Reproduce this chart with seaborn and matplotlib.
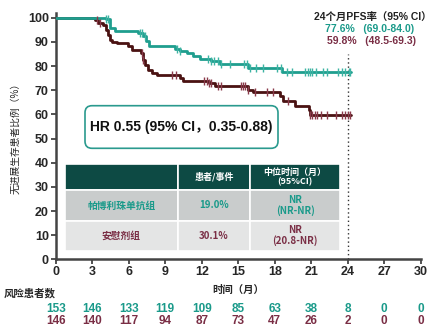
import numpy as np
import pandas as pd
import matplotlib
matplotlib.use("Agg")
import matplotlib.pyplot as plt
import matplotlib.transforms as mtransforms
from matplotlib.patches import Rectangle, FancyBboxPatch
import seaborn as sns

# ---------------- data ----------------
teal_t = [0, 4.1, 4.5, 4.9, 6.8, 7.2, 7.45, 7.7, 9.8, 10.2, 10.8, 11.3, 11.9, 12.8, 13.5, 15.8, 18.6, 24.3]
teal_s = [100, 99.5, 95.8, 94.4, 93.6, 92.4, 90.3, 88.2, 87.1, 86.2, 85.3, 84.1, 83.0, 82.2, 80.8, 79.4, 77.6, 77.6]
maroon_t = [0, 3.2, 3.5, 3.9, 4.1, 4.3, 4.45, 4.6, 5.0, 5.95, 6.25, 7.05, 7.2, 7.35, 7.6, 7.9, 8.3, 10.2, 10.5,
            12.6, 13.1, 15.8, 16.2, 18.4, 18.7, 19.7, 20.8, 20.9, 24.3]
maroon_s = [100, 99.3, 98.0, 97.2, 95.1, 93.0, 91.0, 90.0, 89.6, 88.2, 86.8, 85.5, 82.7, 80.6, 78.5, 77.2, 76.5, 75.1, 74.0,
            72.9, 71.6, 70.2, 69.1, 67.5, 65.4, 63.6, 61.7, 59.8, 59.8]
teal_cens = [4.1, 4.3, 6.9, 7.1, 7.3, 10.0, 10.2, 12.5, 12.8, 13.0, 13.3, 13.6, 14.3, 15.5, 15.7, 16.0, 16.5, 17.0,
             18.2, 18.5, 19.0, 19.4, 20.5, 20.7, 20.9, 21.1, 21.4, 22.0, 22.3, 23.2, 23.5, 23.8, 24.1, 24.2]
maroon_cens = [3.4, 3.6, 7.1, 7.2, 9.6, 9.9, 12.2, 12.4, 12.6, 12.8, 13.3, 13.6, 15.2, 15.4, 15.6, 15.8, 16.4, 17.4,
               17.9, 19.1, 20.9, 21.1, 21.3, 21.5, 21.8, 22.3, 23.0, 23.5, 23.8, 24.0, 24.2]
risk_times = [0, 3, 6, 9, 12, 15, 18, 21, 24, 27, 30]
risk_teal = [153, 146, 133, 119, 109, 85, 63, 38, 8, 0, 0]
risk_maroon = [146, 140, 117, 94, 87, 73, 47, 26, 2, 0, 0]
xticks = [0, 3, 6, 9, 12, 15, 18, 21, 24, 27, 30]
yticks = [0, 10, 20, 30, 40, 50, 60, 70, 80, 90, 100]
table_header = ["", "患者/事件", "中位时间（月）\n(95%CI)"]
table_rows = [["帕博利珠单抗组", "19.0%", "NR\n(NR-NR)"],
              ["安慰剂组", "30.1%", "NR\n(20.8-NR)"]]
pfs24_title = "24个月PFS率（95% CI）"
pfs24_teal = "77.6%   (69.0-84.0)"
pfs24_maroon = "59.8%   (48.5-69.3)"
hr_text = "HR 0.55 (95% CI，0.35-0.88)"

TEAL = "#1f9e8e"
TEAL_TXT = "#1a9a8a"
MAROON_LINE = "#4a1212"
MAROON_TICK = "#8a3a4a"
MAROON_TXT = "#7a2e45"
DARK_HDR = "#0d4a44"

sns.set_style("ticks")
plt.rcParams["font.family"] = ["Liberation Sans", "Noto Sans CJK SC", "DejaVu Sans"]
CJK = ["Noto Sans CJK SC", "DejaVu Sans"]

W, H = 443, 332
fig = plt.figure(figsize=(W / 100, H / 100), dpi=100)
x0, x1, y0, y1 = 55.7, 420.7, 259.3, 13.0
ax = fig.add_axes([x0 / W, 1 - y0 / H, (x1 - x0) / W, (y0 - y1) / H])

def step_val(times, surv, t):
    idx = np.searchsorted(np.array(times), t, side="right") - 1
    return np.array(surv)[idx]

df_t = pd.DataFrame({"t": teal_t, "s": teal_s})
df_m = pd.DataFrame({"t": maroon_t, "s": maroon_s})
sns.lineplot(data=df_m, x="t", y="s", ax=ax, color=MAROON_LINE, lw=2.0, drawstyle="steps-post",
             estimator=None, sort=False, zorder=3)
sns.lineplot(data=df_t, x="t", y="s", ax=ax, color=TEAL, lw=2.0, drawstyle="steps-post",
             estimator=None, sort=False, zorder=4)
ax.plot(teal_cens, [step_val(teal_t, teal_s, c) for c in teal_cens], ls="none", marker="|",
        ms=5.5, mew=1.0, color="#3cb3a3", zorder=5)
ax.plot(maroon_cens, [step_val(maroon_t, maroon_s, c) for c in maroon_cens], ls="none", marker="|",
        ms=5.5, mew=1.0, color=MAROON_TICK, zorder=5)

ax.axvline(24, ymin=0, ymax=85 / 102, color="#333333", ls=(0, (1, 2)), lw=1.0, zorder=2)

ax.set_xlim(0, 30)
ax.set_ylim(0, 102)
ax.set_xticks(xticks)
ax.set_yticks(yticks)
ax.set_xticklabels([str(v) for v in xticks], fontsize=9, fontweight="bold")
ax.set_yticklabels([str(v) for v in yticks], fontsize=9, fontweight="bold")
ax.set_xlabel("")
ax.set_ylabel("")
for s in ["top", "right"]:
    ax.spines[s].set_visible(False)
for s in ["left", "bottom"]:
    ax.spines[s].set_color("#444444")
    ax.spines[s].set_linewidth(1.8)
ax.tick_params(axis="both", length=3.5, width=1.3, color="#444444", pad=1.5)

# overlay in pixel coordinates
ov = fig.add_axes([0, 0, 1, 1], zorder=10)
ov.set_xlim(0, W)
ov.set_ylim(H, 0)
ov.axis("off")
ov.patch.set_alpha(0)

ov.text(15, 136, "无进展生存患者比例（%）", rotation=90, ha="center", va="center", fontsize=7, family=CJK)
ov.text(238, 290, "时间（月）", ha="center", va="center", fontsize=7.5, fontweight="bold", family=CJK)
ov.text(4, 293, "风险患者数", ha="left", va="center", fontsize=7.5, fontweight="bold", family=CJK)

# risk numbers aligned to data x
trans = mtransforms.blended_transform_factory(ax.transData, ov.transData)
for t, a, b in zip(risk_times, risk_teal, risk_maroon):
    ov.text(t, 309.5, str(a), transform=trans, ha="center", va="center", fontsize=8.5, fontweight="bold", color=TEAL_TXT)
    ov.text(t, 321, str(b), transform=trans, ha="center", va="center", fontsize=8.5, fontweight="bold", color=MAROON_TXT)

# 24-month annotation
ov.text(373, 17.5, pfs24_title, ha="center", va="center", fontsize=7.5, fontweight="bold", color="#222222")
ov.text(370, 29.5, pfs24_teal, ha="center", va="center", fontsize=7.5, fontweight="bold", color=TEAL_TXT)
ov.text(372, 41, pfs24_maroon, ha="center", va="center", fontsize=7.5, fontweight="bold", color=MAROON_TXT)

# HR box
ov.add_patch(FancyBboxPatch((85, 105.7), 193, 42.6, boxstyle="round,pad=0,rounding_size=7",
                            fc="white", ec="#2a9a8e", lw=1.2))
ov.text(181.5, 127, hr_text, ha="center", va="center", fontsize=10, fontweight="bold", color="#111111")

# results table
cols = [65, 177.7, 250.3, 340]
rows = [164.3, 190, 221, 250.7]
fills = [DARK_HDR, "#c9cccc", "#e4e5e5"]
for r in range(3):
    for c in range(3):
        ov.add_patch(Rectangle((cols[c], rows[r]), cols[c + 1] - cols[c], rows[r + 1] - rows[r],
                               fc=fills[r], ec="white", lw=1.2))
for c in range(3):
    cx = (cols[c] + cols[c + 1]) / 2
    ov.text(cx, (rows[0] + rows[1]) / 2, table_header[c], ha="center", va="center", fontsize=6.5,
            fontweight="bold", color="white", family=CJK, linespacing=1.1)
row_colors = [TEAL_TXT, MAROON_TXT]
for r in range(2):
    for c in range(3):
        cx = (cols[c] + cols[c + 1]) / 2
        cy = (rows[r + 1] + rows[r + 2]) / 2
        ov.text(cx, cy, table_rows[r][c], ha="center", va="center", fontsize=7, fontweight="bold",
                color=row_colors[r], family=["Noto Sans CJK SC", "DejaVu Sans"], linespacing=1.05)

fig.savefig("out.png", dpi=100)
